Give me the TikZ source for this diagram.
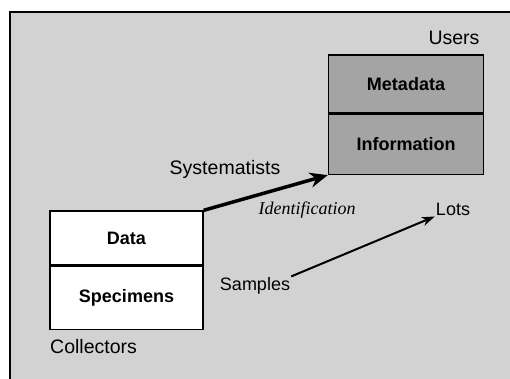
\documentclass[tikz,border=0pt]{standalone}
\usepackage{fontspec}
\setmainfont{Liberation Sans}
\newfontfamily\idfont{Liberation Serif}
\usepackage{xcolor}
\usetikzlibrary{positioning,arrows.meta}
\definecolor{paperback}{HTML}{D2D2D2}
\definecolor{usergray}{HTML}{A4A4A4}

\begin{document}
\begin{tikzpicture}[x=1pt,y=-1pt,
  box/.style={rectangle,draw,line width=1.4pt,
    minimum width=155pt,align=center,
    font=\fontsize{18}{20}\selectfont\bfseries},
  lbl/.style={font=\fontsize{19.5}{22}\selectfont,inner sep=1pt},
  arr/.style={-{Stealth[length=13pt,width=9pt]},line width=2pt}]

  \useasboundingbox (0,0) rectangle (510,379);
  \fill[paperback] (10,12) rectangle (510,379);
  \draw[line width=2pt] (10,379) -- (10,12) -- (510,12);

  \node[box,fill=usergray,minimum height=58pt] (meta) at (406,84) {Metadata};
  \node[box,fill=usergray,minimum height=60pt,below=0pt of meta] (info) {Information};

  \node[box,fill=white,minimum width=153pt,minimum height=54pt] (data) at (126.5,238) {Data};
  \node[box,fill=white,minimum width=153pt,minimum height=63pt,below=0pt of data] (spec) {Specimens};

  \node[lbl] (users) at (454,38) {Users};
  \node[lbl,anchor=west] (coll) at (49,347) {Collectors};
  \node[lbl] (syst) at (225,169) {Systematists};
  \node[lbl,font=\fontsize{18}{20}\selectfont\idfont\itshape] (ident) at (307,210) {Identification};
  \node[lbl,font=\fontsize{18}{20}\selectfont] (lots) at (453,209) {Lots};
  \node[lbl,font=\fontsize{18}{20}\selectfont] (samp) at (255,286) {Samples};

  \draw[arr,line width=3.5pt,-{Stealth[length=18pt,width=15pt]}] (data.north east) -- (info.south west);
  \draw[arr] (samp.north east) -- (lots.south west);
\end{tikzpicture}
\end{document}
